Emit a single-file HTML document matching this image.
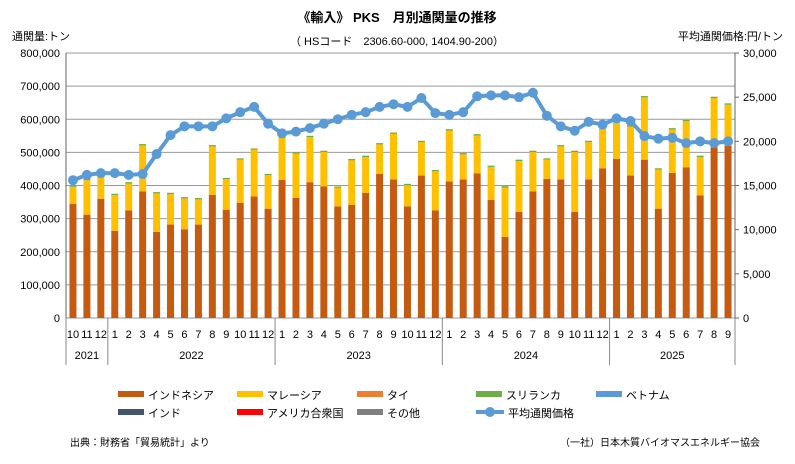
<!DOCTYPE html>
<html><head><meta charset="utf-8"><style>
body{margin:0;background:#fff;}
svg text{font-family:"Liberation Sans","Noto Sans CJK JP",sans-serif;fill:#000;}
</style></head><body>
<svg id="s" width="795" height="459" xmlns="http://www.w3.org/2000/svg">
<rect width="795" height="459" fill="#fff"/>
<text x="397" y="22" font-size="13" text-anchor="middle" font-weight="bold">《輸入》 PKS　月別通関量の推移</text>
<text x="397" y="45" font-size="11" text-anchor="middle">（ HSコード　2306.60-000, 1404.90-200）</text>
<text x="12" y="40" font-size="11">通関量:トン</text>
<text x="783" y="40" font-size="11" text-anchor="end">平均通関価格:円/トン</text>
<g id="g"></g>
<text x="70" y="446" font-size="10">出典：財務省「貿易統計」より</text>
<text x="760" y="446" font-size="10" text-anchor="end">（一社）日本木質バイオマスエネルギー協会</text>
</svg>
<script>
const g=document.getElementById('g');let h='';
const L=66,R=735,T=53,B=318,H=B-T,n=48,w=(R-L)/n;
for(let i=0;i<=8;i++){const y=B-i*H/8;h+=`<line x1="${L}" y1="${y}" x2="${R}" y2="${y}" stroke="#999" stroke-width="1"/>`;
h+=`<text x="${L-6}" y="${y+4}" font-size="11" text-anchor="end">${i==0?'0':(i*100)+',000'}</text>`;}
for(let i=0;i<=6;i++){const y=B-i*H/6;h+=`<line x1="${R}" y1="${y}" x2="${R+4}" y2="${y}" stroke="#666"/>`;
h+=`<text x="${R+8}" y="${y+4}" font-size="11">${i==0?'0':(i*5)+',000'}</text>`;}
h+=`<line x1="${L}" y1="${T}" x2="${L}" y2="${B}" stroke="#666"/><line x1="${R}" y1="${T}" x2="${R}" y2="${B}" stroke="#666"/>`;
const tot=[400,420,430,375,410,525,380,378,365,362,522,423,482,512,435,548,500,550,505,397,480,490,528,560,405,535,447,570,498,555,460,398,478,505,482,522,505,535,595,598,582,670,452,573,598,490,668,648];
const ind=[345,312,360,263,325,382,260,282,268,282,372,327,348,367,330,417,363,410,397,337,342,378,435,418,337,430,325,412,418,437,357,245,320,382,420,418,320,418,452,480,430,478,330,438,455,370,515,520];
const pr=[15600,16200,16400,16400,16200,16300,18560,20700,21700,21700,21700,22600,23300,23900,22000,20900,21100,21500,22000,22500,23000,23300,23900,24200,23900,24900,23200,23000,23300,25100,25200,25200,25000,25500,22900,21700,21200,22200,21900,22600,22300,20600,20300,20400,19800,20000,19800,20000];
const months=[10,11,12];for(let y=0;y<4;y++)for(let m=1;m<=12;m++)months.push(m);months.length=48;
const yv=v=>B-v*1000/800000*H;
for(let i=0;i<n;i++){const x=L+i*w+(w-7)/2;
const yi=yv(ind[i]),ym=yv(tot[i]-4),yt=yv(tot[i]);
h+=`<rect x="${x}" y="${yi}" width="7" height="${B-yi}" fill="#C55A11"/>`;
h+=`<rect x="${x}" y="${ym}" width="7" height="${yi-ym}" fill="#FFC000"/>`;
h+=`<rect x="${x}" y="${yt}" width="7" height="${ym-yt}" fill="#70AD47"/>`;
h+=`<text x="${L+i*w+w/2}" y="338" font-size="11" text-anchor="middle">${months[i]}</text>`;}
let pts=pr.map((p,i)=>`${L+i*w+w/2},${B-p/30000*H}`).join(' ');
h+=`<polyline points="${pts}" fill="none" stroke="#5B9BD5" stroke-width="4" stroke-linejoin="round"/>`;
pr.forEach((p,i)=>h+=`<circle cx="${L+i*w+w/2}" cy="${B-p/30000*H}" r="5" fill="#5B9BD5"/>`);
[0,3,15,27,39,48].forEach(k=>{const x=L+k*w;h+=`<line x1="${x}" y1="${B}" x2="${x}" y2="365" stroke="#888"/>`;});
[[1.5,2021],[9,2022],[21,2023],[33,2024],[43.5,2025]].forEach(a=>h+=`<text x="${L+a[0]*w}" y="359" font-size="11" text-anchor="middle">${a[1]}</text>`);
const lg=[['インドネシア','#C55A11',118,395],['マレーシア','#FFC000',237,395],['タイ','#ED7D31',357,395],['スリランカ','#70AD47',476,395],['ベトナム','#5B9BD5',596,395],['インド','#44546A',118,413],['アメリカ合衆国','#FF0000',237,413],['その他','#7F7F7F',357,413]];
lg.forEach(a=>{h+=`<rect x="${a[2]}" y="${a[3]-4}" width="26" height="6" fill="${a[1]}"/><text x="${a[2]+30}" y="${a[3]+4}" font-size="11">${a[0]}</text>`;});
h+=`<line x1="476" y1="412" x2="504" y2="412" stroke="#5B9BD5" stroke-width="4"/><circle cx="490" cy="412" r="5" fill="#5B9BD5"/><text x="508" y="417" font-size="11">平均通関価格</text>`;
g.innerHTML=h;
</script>
</body></html>
